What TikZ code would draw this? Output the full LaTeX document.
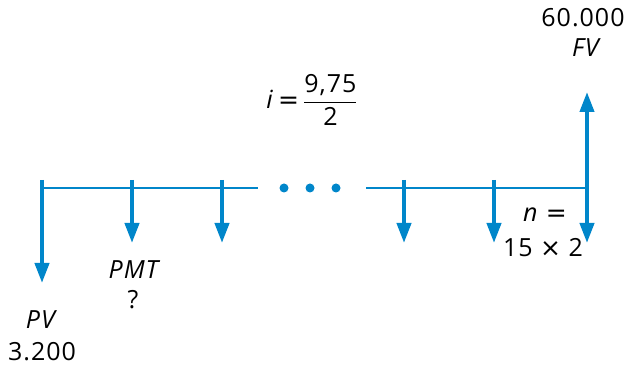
\documentclass[tikz,border=0pt]{standalone}
\usepackage{amsmath}
\usepackage{fontspec}
\setmainfont{Open Sans}[LetterSpace=4]
\newfontfamily\symfont{DejaVu Sans}
\usetikzlibrary{arrows.meta}
\definecolor{flowblue}{RGB}{0,134,202}

\begin{document}
\begin{tikzpicture}[x=1pt,y=-1pt,
  every node/.style={font=\fontsize{25}{29}\selectfont, inner sep=0pt},
  timeline/.style={draw=flowblue, line width=2pt},
  cashflow/.style={draw=flowblue, line width=4pt, -{Triangle[width=14pt,length=20pt]}},
  dot/.style={circle, fill=flowblue, minimum size=9pt}]
\useasboundingbox (0,0) rectangle (630,366);
% time line
\coordinate (t0) at (42,188);
\coordinate (t1) at (132,188);
\coordinate (t2) at (222,188);
\coordinate (gapl) at (258,188);
\coordinate (gapr) at (366,188);
\coordinate (t3) at (404,188);
\coordinate (t4) at (494,188);
\coordinate (tn) at (587,188);
\draw[timeline] (t0) -- (gapl);
\draw[timeline] (gapr) -- (tn);
\node[dot] (d1) at (284,188) {};
\node[dot] (d2) at (310,188) {};
\node[dot] (d3) at (336,188) {};
% cash flows
\coordinate (pvtop) at (42,180);
\coordinate (pvend) at (42,283);
\draw[cashflow] (pvtop) -- (pvend);
\foreach \x/\name in {132/a,222/b,404/c,494/d}{
  \coordinate (\name top) at (\x,180);
  \coordinate (\name end) at (\x,243);
  \draw[cashflow] (\name top) -- (\name end);
}
\coordinate (fvend) at (587,92);
\coordinate (nend) at (587,243);
\draw[cashflow, {Triangle[width=14pt,length=20pt]}-{Triangle[width=14pt,length=20pt]}] (fvend) -- (nend);
% labels
\node (fvval) at (583,18) {60.000};
\node (fvlbl) at (587,48) {\textit{FV}};
\node (rate) at (312,100) {\textit{i}\,{\symfont =}\,$\genfrac{}{}{1.4pt}{0}{\text{9,75}}{\text{2}}$};
\node (pvlbl) at (42,320) {\textit{PV}};
\node (pvval) at (42,352) {3.200};
\node (pmtlbl) at (135,270) {\textit{PMT}};
\node (pmtval) at (133,300) {?};
\node (nlbl) at (545,215) {\textit{n} {\symfont =}};
\node (nval) at (543,248) {15 {\symfont ×} 2};
\end{tikzpicture}
\end{document}
